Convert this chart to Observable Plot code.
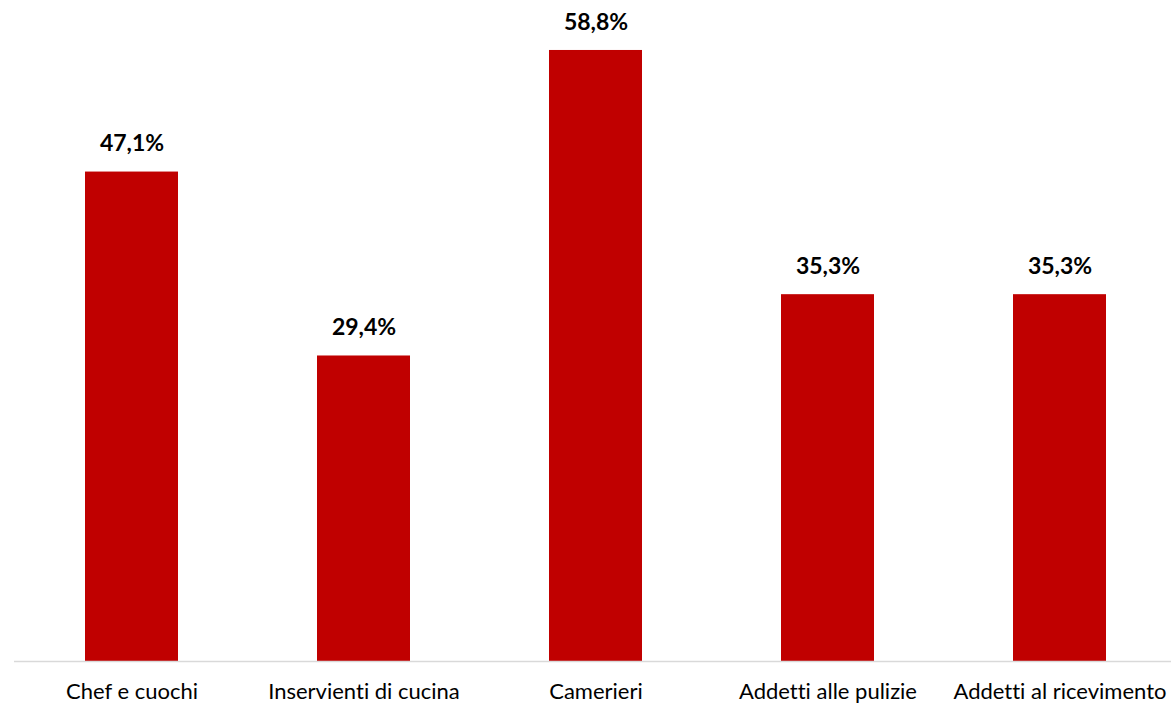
<!DOCTYPE html>
<html>
<head>
<meta charset="utf-8">
<script src="https://cdn.jsdelivr.net/npm/d3@7"></script>
<script src="https://cdn.jsdelivr.net/npm/@observablehq/plot@0.6"></script>
<style>
  html, body { margin: 0; padding: 0; background: #fff; overflow: hidden; }
  #chart { width: 1171px; height: 705px; overflow: hidden; }
  #chart svg { max-width: none !important; }
  #chart svg text { font-variant-ligatures: none; }
</style>
</head>
<body>
<div id="chart"></div>
<script>
const categories = ["Chef e cuochi", "Inservienti di cucina", "Camerieri", "Addetti alle pulizie", "Addetti al ricevimento"];
const values = [47.1, 29.4, 58.8, 35.3, 35.3];

const data = categories.map((c, i) => ({category: c, value: values[i]}));
const fmt = v => v.toFixed(1).replace(".", ",") + "%";

const chart = Plot.plot({
  width: 1177,
  height: 705,
  marginLeft: 14,
  marginRight: 0,
  marginTop: 37.5,
  marginBottom: 44,
  style: {fontFamily: "Lato, 'Open Sans', sans-serif", background: "#fff", overflow: "visible", maxWidth: "none"},
  x: {domain: categories, paddingInner: 0.6, paddingOuter: 0.3, label: null},
  y: {domain: [0, 60], axis: null},
  marks: [
    Plot.barY(data, {x: "category", y: "value", fill: "#C00000"}),
    Plot.ruleY([0], {stroke: "#d9d9d9", strokeWidth: 1.5}),
    Plot.axisX({tickSize: 0, tickPadding: 22, fontSize: 22, fill: "#000", label: null}),
    Plot.text(data, {x: "category", y: "value", text: d => fmt(d.value), dy: -28, fontSize: 23, fontWeight: "bold", fill: "#000"})
  ]
});
document.getElementById("chart").appendChild(chart);
</script>
</body>
</html>
